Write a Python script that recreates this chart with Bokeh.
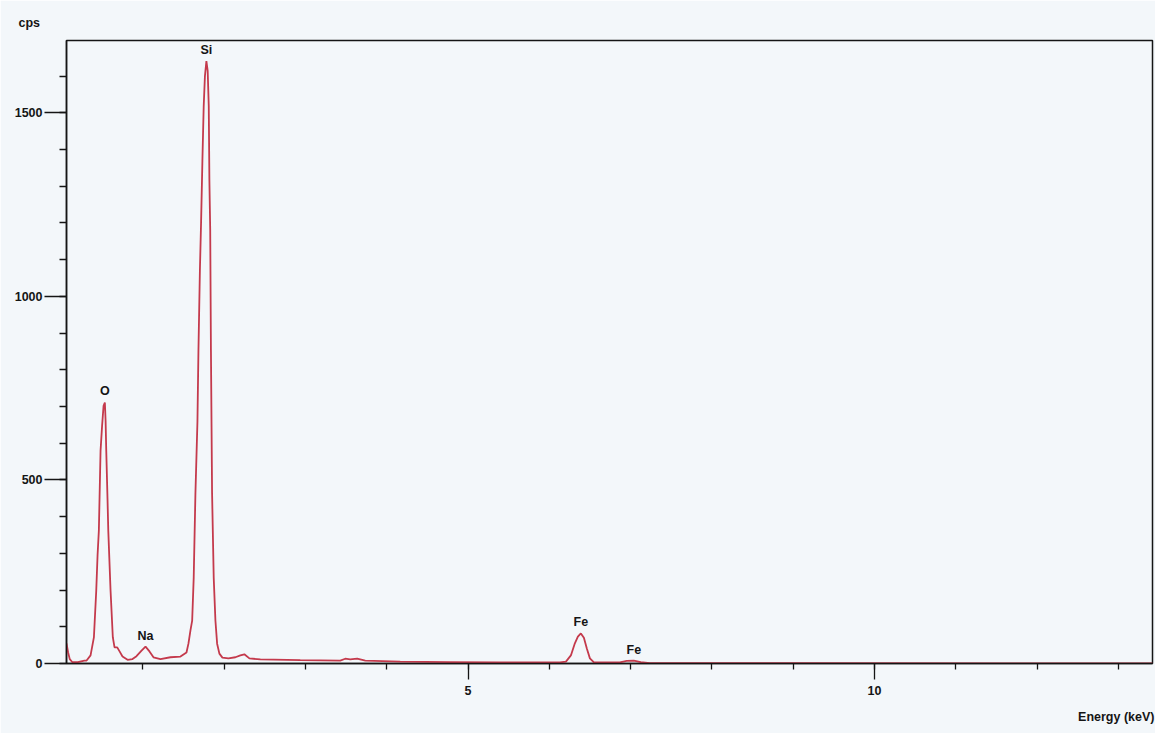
from bokeh.plotting import figure
from bokeh.models import Range1d, ColumnDataSource, LabelSet, Title, SingleIntervalTicker
from bokeh.core.properties import value
from bokeh.embed import file_html
from bokeh.resources import INLINE

# EDS spectrum: energy (keV) and intensity (cps)
energy_kev = [
    0.06, 0.08, 0.10, 0.13, 0.20, 0.28, 0.307, 0.356, 0.397, 0.426, 0.442, 0.458,
    0.479, 0.498, 0.516, 0.532, 0.541, 0.549, 0.565, 0.574, 0.602, 0.630, 0.651,
    0.684, 0.713, 0.749, 0.811, 0.872, 0.921, 0.983, 1.032, 1.081, 1.130, 1.216,
    1.339, 1.462, 1.536, 1.560, 1.585, 1.606, 1.625, 1.646, 1.671, 1.683, 1.701,
    1.716, 1.732, 1.748, 1.763, 1.781, 1.797, 1.810, 1.818, 1.828, 1.837, 1.851,
    1.871, 1.892, 1.913, 1.941, 1.978, 2.052, 2.138, 2.199, 2.248, 2.310, 2.445,
    2.936, 3.428, 3.489, 3.550, 3.636, 3.735, 4.165, 4.779, 5.393, 6.130, 6.204,
    6.265, 6.314, 6.351, 6.388, 6.425, 6.462, 6.499, 6.548, 6.867, 6.953, 7.039,
    7.125, 7.236, 7.850, 9.080, 11.54, 13.42,
]
counts_cps = [
    55, 30, 12, 4, 4, 8, 8, 22, 71, 199, 294, 362,
    580, 648, 702, 711, 661, 580, 444, 362, 199, 71, 44,
    44, 33, 19, 10, 12, 20, 35, 46, 33, 17, 12,
    17, 19, 30, 54, 90, 117, 234, 463, 660, 850, 1070,
    1205, 1370, 1519, 1600, 1641, 1614, 1519, 1315, 1180, 850, 463,
    234, 117, 54, 27, 16, 14, 17, 22, 25, 14, 11,
    9, 8, 13, 11, 13, 8, 5, 4, 3, 3, 5,
    22, 55, 73, 82, 70, 40, 14, 3, 3, 7, 8,
    4, 1, 1, 1, 0.5, 0.5,
]

# Identified peaks
peak_names = ["O", "Na", "Si", "Fe", "Fe"]
peak_energy = [0.532, 1.032, 1.781, 6.388, 7.039]
peak_counts = [711, 46, 1641, 82, 8]

x_ticks_major = 5
y_ticks_major = 500

FONT = "Liberation Sans"
INK = "#151515"
BG = "#f3f7fa"
SIZE = "12.5px"

p = figure(
    width=1155, height=733,
    x_range=Range1d(0.06, 13.42), y_range=Range1d(0, 1697),
    output_backend="svg", toolbar_location=None,
    min_border_left=66, min_border_right=3, min_border_top=40, min_border_bottom=69,
    background_fill_color=BG, border_fill_color=BG,
)
p.grid.visible = False
p.outline_line_color = INK
p.outline_line_width = 1.5

p.line(energy_kev, counts_cps, line_color="#c43a4c", line_width=1.8)

# axes
p.xaxis.ticker = SingleIntervalTicker(interval=x_ticks_major, num_minor_ticks=5)
p.yaxis.ticker = SingleIntervalTicker(interval=y_ticks_major, num_minor_ticks=5)
for ax in (p.xaxis[0], p.yaxis[0]):
    ax.axis_line_color = INK
    ax.axis_line_width = 1.5
    ax.major_tick_line_color = INK
    ax.minor_tick_line_color = INK
    ax.major_tick_line_width = 1.3
    ax.minor_tick_line_width = 1.3
    ax.major_tick_in = 0
    ax.minor_tick_in = 0
    ax.major_label_text_font = FONT
    ax.major_label_text_font_size = SIZE
    ax.major_label_text_font_style = "bold"
    ax.major_label_text_color = INK
p.xaxis.major_tick_out = 16
p.xaxis.minor_tick_out = 6
p.xaxis.major_label_standoff = 6
p.yaxis.major_tick_out = 22
p.yaxis.minor_tick_out = 7
p.yaxis.major_label_standoff = 2

# peak labels
src = ColumnDataSource(dict(x=peak_energy, y=peak_counts, t=peak_names))
p.add_layout(LabelSet(
    x="x", y="y", text="t", source=src, y_offset=11,
    text_align="center", text_baseline="middle",
    text_font=value(FONT), text_font_size=value(SIZE), text_font_style="bold",
    text_color=INK,
))

# axis titles placed in the border panels
p.add_layout(Title(
    text="cps", align="left", offset=-48, standoff=22,
    text_font=FONT, text_font_size=SIZE, text_font_style="bold", text_color=INK,
), "above")
p.add_layout(Title(
    text="Energy (keV)", align="right", offset=-2, standoff=20,
    text_font=FONT, text_font_size=SIZE, text_font_style="bold", text_color=INK,
), "below")

open("out.html", "w").write(file_html(p, INLINE))
